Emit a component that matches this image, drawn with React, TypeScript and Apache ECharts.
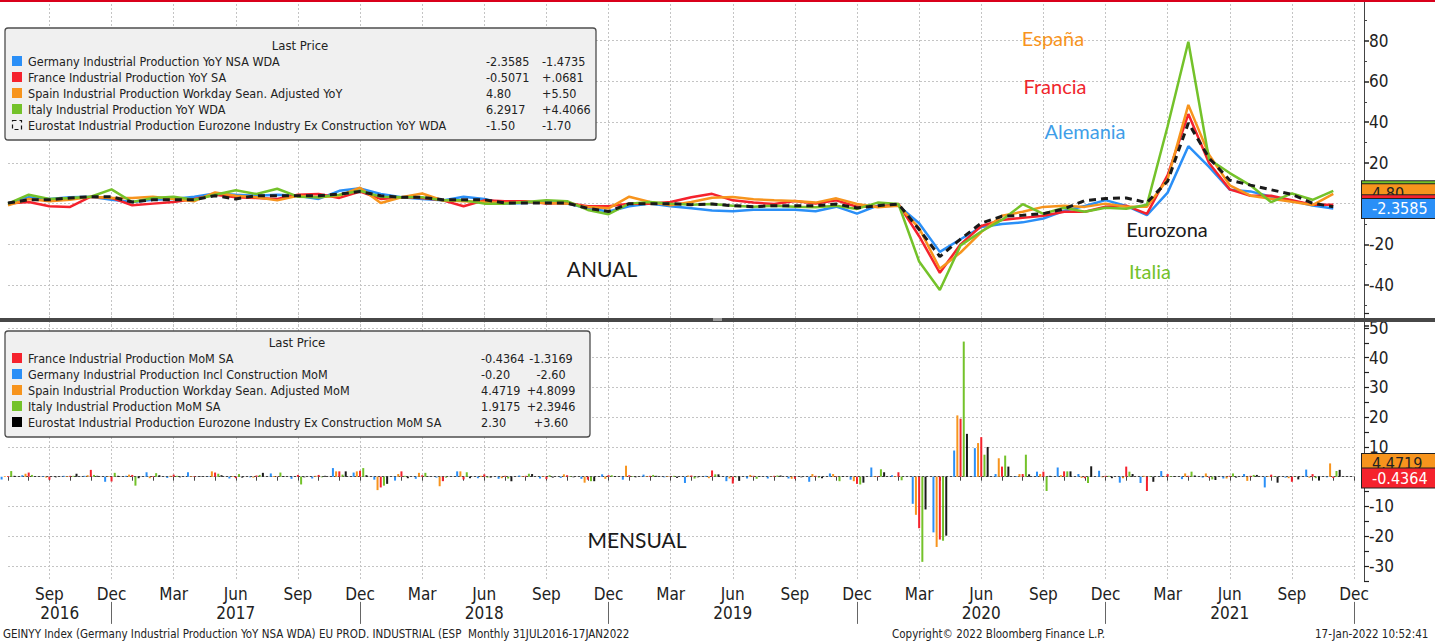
import React, { useEffect, useRef } from 'react';
import * as echarts from 'echarts';

// ---------- categories ----------
const MONTH_ABBR = ['Jan', 'Feb', 'Mar', 'Apr', 'May', 'Jun', 'Jul', 'Aug', 'Sep', 'Oct', 'Nov', 'Dec'];
const categories: string[] = Array.from({ length: 66 }, (_, i) => {
  const m = (6 + i) % 12;
  const y = 2016 + Math.floor((6 + i) / 12);
  return `${MONTH_ABBR[m]} ${y}`;
});
const yearLabels = ['2016', '2017', '2018', '2019', '2020', '2021'];
const yearLabelSlots = [5, 22, 46, 70, 94, 118];
const halfSlots: string[] = Array.from({ length: 131 }, (_, k) => String(k));

// ---------- YoY (Jul 2016 .. Nov 2021) ----------
const germanyYoY = [
  0, 3.1, 2.3, 3.1, 3.4, 1.9,
  0.8, 1.9, 2.3, 3.4, 5.0, 4.4, 3.9, 4.4, 3.9, 2.3, 6.3, 7.5,
  4.7, 3.1, 2.3, 1.6, 3.4, 2.3, 0, 0.3, 0.8, 0, -2.3, -3.9,
  -1.3, 0, -1.3, -2.3, -3.4, -3.7, -3.0, -3.0, -3.0, -3.7, -1.5, -4.9,
  -1.0, -1.0, -9.6, -23.7, -17.5, -11.5, -10.0, -9.2, -7.3, -3.5, -1.2, 1.7,
  -1.1, -5.7, 5.4, 28.2, 18.0, 6.8, 6.0, 3.4, 1.4, -0.885, -2.3585,
];
const franceYoY = [
  0, 0.8, -1.3, -1.6, 3.4, 2.8,
  -0.8, 0, 0.8, 2.3, 4.4, 3.1, 2.8, 2.3, 4.4, 4.7, 2.8, 5.9,
  2.3, 3.1, 2.8, 1.6, -1.3, 1.6, 1.2, 1.2, 0, 0.3, -1.3, -1.3,
  0, 0, 0.8, 3.1, 4.8, 1.6, 0.5, -0.2, 1.3, 0, 1.6, -1.5,
  -1.5, -0.2, -16.0, -34.0, -20.0, -11.0, -8.0, -7.0, -6.0, -4.0, -4.0, -1.5,
  -1.0, -5.0, 14.0, 44.0, 20.0, 7.0, 3.9, 3.9, 1.7, -0.5752, -0.5071,
];
const spainYoY = [
  -0.8, 2.3, 1.2, 1.9, 3.4, 2.8,
  2.8, 3.4, 2.3, 1.2, 5.5, 3.9, 3.1, 1.6, 3.9, 3.1, 3.9, 7.8,
  0.3, 3.1, 5.0, 1.6, 1.2, 0.8, 0.3, 0.8, 0.3, 0, -1.6, -2.3,
  3.4, 0.8, -0.8, 0.8, 2.9, 3.2, 2.1, 1.6, 1.3, 0.5, 2.6, -0.2,
  -1.8, -1.0, -12.0, -32.0, -24.0, -14.0, -6.0, -4.0, -1.6, -1.0, -1.6, 0,
  -1.5, -1.5, 12.0, 48.5, 24.0, 9.0, 3.9, 2.4, 0.9, -0.7, 4.8,
];
const italyYoY = [
  0, 4.4, 2.3, 2.8, 3.4, 7.0,
  0.8, 2.8, 3.4, 1.9, 4.4, 6.6, 4.7, 7.3, 3.4, 3.1, 4.4, 6.3,
  3.4, 3.1, 3.1, 1.6, 1.6, 0, 0, 0.8, 1.6, 1.2, -3.1, -5.2,
  0, 0.8, 0, -0.5, -0.2, -1.0, -1.5, -1.0, -1.5, -1.8, -1.0, -2.6,
  0.5, -0.2, -28.4, -42.4, -20.5, -13.7, -8.0, -0.3, -5.0, -2.0, -4.0, -2.0,
  -2.5, -0.6, 38.0, 79.5, 21.8, 15.0, 9.0, 0.7, 5.0, 1.8851, 6.2917,
];
const eurozoneYoY = [
  0.3, 1.9, 1.9, 2.8, 3.4, 3.4,
  0.8, 1.9, 1.9, 1.9, 3.9, 2.3, 3.9, 3.9, 3.9, 3.9, 4.7, 5.9,
  3.9, 3.1, 3.1, 1.9, 1.9, 1.9, 0.3, 0.3, 0.3, 0.3, -2.3, -3.9,
  0, 0, 0, -0.5, -0.2, -1.0, -1.5, -1.0, -1.0, -1.0, -0.2, -2.1,
  -1.0, -0.2, -12.7, -26.0, -17.4, -9.6, -6.2, -5.7, -4.9, -2.6, 1.5, 2.5,
  2.8, 0.5, 11.0, 39.6, 22.4, 11.5, 9.1, 6.8, 4.5, 0.2, -1.5,
];

// ---------- MoM (Jul 2016 .. Nov 2021) ----------
const germanyMoM = [
  -0.9, 0.5, 0.2, 0.3, 0.3, -1.7,
  0.3, 1.5, -0.4, 1.5, 0.1, -0.6, -0.2, 1.1, -0.7, -0.6, 2.9, 1.4,
  -1.0, -1.3, -0.7, -0.3, 1.8, -0.5, -0.7, 0.4, -0.6, -0.4, -0.7, 0.8,
  -1.0, 0.7, -0.2, -2.1, 0.3, -1.5, -0.6, -0.6, -0.6, -1.7, 1.1, -1.0,
  3.1, 0.5, -9.1, -18.7, 8.8, 9.6, 0.9, 0.2, 1.7, 3.1, 0.9, 2.0,
  -2.0, -2.1, 1.9, -0.8, -0.3, -0.6, 0.9, -3.6, -0.3, 2.4, -0.2,
];
const spainMoM = [
  0.2, 1.0, -0.3, 0.2, 0.5, 0.2,
  0.7, -0.5, 0.3, 0.2, 1.8, 0.2, -0.3, 0.2, 0, 0.3, 1.8, 1.8,
  -4.5, 0.9, 1.3, -3.2, 1.8, 0.3, -0.5, 0.2, 0.2, 0.8, -2.0, -0.7,
  3.7, 0.2, 0.2, 0.4, -0.5, -0.6, 0.6, 0.1, -0.7, 0.9, 0.9, -1.5,
  0.2, 0.2, -12.8, -23.6, 20.6, 11.3, 6.2, 0.9, 0.9, 0.5, -0.4, -0.2,
  -0.5, 0.3, 0.2, 1.1, 1.1, -0.6, -1.4, 0.2, -0.5, -0.338, 4.4719,
];
const franceMoM = [
  0.2, 1.4, -1.0, 0.3, 2.3, -1.6,
  0.6, 0.2, 0.7, 0.2, 1.4, -0.5, 0.4, 0.1, 0.6, 0.6, 1.8, 2.0,
  -3.6, 1.8, 0.5, -1.5, -0.9, 0.8, 0.3, 0.3, -0.8, 0.5, -1.0, 0.5,
  0.5, 0.3, 0.1, 0.4, 2.1, -2.3, 0.3, 0.3, -0.7, 0.3, 0.2, -2.4,
  0.2, 1.5, -17.3, -21.1, 19.5, 13.3, 3.4, 0.9, 1.7, 1.8, -0.5, 0.3,
  3.4, -4.8, 0.9, 0.3, -0.3, 0.3, 0.3, 0.7, -1.7, 0.8805, -0.4364,
];
const italyMoM = [
  1.9, 0.6, 0, 0.3, 0.6, 1.3,
  -3.0, 1.2, 0.3, 0, 1.0, 0.9, 0.6, 1.4, -2.6, -0.2, 0.7, 2.9,
  -3.0, 0.3, 1.3, -0.3, 1.5, -0.3, -0.6, 1.0, 0.5, 0.2, -1.5, 0.5,
  0.2, 0.6, 0.3, -0.6, 0.8, -0.2, -0.7, 0.4, 0, -0.3, -1.5, -2.6,
  2.5, -1.2, -28.6, -21.5, 45.4, 7.4, 7.1, 7.4, -4.8, 1.8, -2.1, 0.3,
  1.7, 0.2, 0.2, 1.7, -0.9, 1.1, 0.6, 0.2, 0.1, -0.4771, 1.9175,
];
const eurozoneMoM = [
  0.3, 0.1, -0.2, 1.0, 0.3, 0.3,
  -0.5, 0.5, -0.2, 0.1, 0.5, -0.3, 1.3, 0.2, -0.2, 0.3, 1.8, 0.5,
  -2.4, -0.5, 0.1, 0, -0.5, -0.3, -1.5, 0.9, -0.3, -0.2, -1.5, 0.2,
  -0.2, 0.3, -0.4, -0.2, 0.8, -1.4, -0.1, 0.4, -0.2, -0.5, 0.2, -2.0,
  1.5, 0, -11.0, -19.8, 14.4, 10.0, 3.4, 0.8, 0.3, 1.8, 3.5, -0.5,
  0.9, -1.7, 0.2, 0.4, -1.1, -0.3, 0.6, -2.0, -0.9, -1.3, 2.3,
];

// ---------- legend texts ----------
const yoyNames = [
  'Germany Industrial Production YoY NSA WDA',
  'France Industrial Production YoY SA',
  'Spain Industrial Production Workday Sean. Adjusted YoY',
  'Italy Industrial Production YoY WDA',
  'Eurostat Industrial Production Eurozone Industry Ex Construction YoY WDA',
];
const yoyLast = ['-2.3585', '-0.5071', '4.80', '6.2917', '-1.50'];
const yoyChange = ['-1.4735', '+.0681', '+5.50', '+4.4066', '-1.70'];
const momNames = [
  'France Industrial Production MoM SA',
  'Germany Industrial Production Incl Construction MoM',
  'Spain Industrial Production Workday Sean. Adjusted MoM',
  'Italy Industrial Production MoM SA',
  'Eurostat Industrial Production Eurozone Industry Ex Construction MoM SA',
];
const momLast = ['-0.4364', '-0.20', '4.4719', '1.9175', '2.30'];
const momChange = ['-1.3169', '-2.60', '+4.8099', '+2.3946', '+3.60'];
const mensualGrid = [-30, -20, -10, 0, 10, 20, 30, 40, 50];

// ---------- styles ----------
const BLUE = '#2a8ff7';
const RED = '#f5222d';
const ORANGE = '#f7941d';
const GREEN = '#74c22a';
const BLACK = '#1a1a1a';
const FONT_C = '"DejaVu Sans Condensed", "DejaVu Sans", sans-serif';
const FONT_ANN = 'Lato, "Open Sans", sans-serif';

const tag = (text: string, value: number, bg: string, fg: string) => ({
  silent: true,
  symbol: ['none', 'none'],
  lineStyle: { color: 'rgba(0,0,0,0)', width: 0, opacity: 1 },
  data: [{ yAxis: value }],
  label: {
    show: true,
    position: 'end',
    distance: 8,
    formatter: text,
    backgroundColor: bg,
    color: fg,
    opacity: 1,
    fontFamily: FONT_C,
    fontSize: 16,
    lineHeight: 17,
    width: 72,
    overflow: 'none',
    padding: [1, 4, 1, 10],
    borderColor: '#222',
    borderWidth: 1,
  },
});

const txt = (x: number, y: number, text: string, font: string, fill: string, align = 'left', z = 101) => ({
  type: 'text',
  x,
  y,
  z,
  style: { text, font, fill, textAlign: align, align, textVerticalAlign: 'middle', verticalAlign: 'middle' },
});

function legendBox(
  bx: number, by: number, bw: number, bh: number, titleX: number, titleY: number, rowY: number,
  names: string[], colors: string[], lasts: string[], changes: string[], c1: number, c2: number, c2Align: string,
  dashedLast: boolean,
) {
  const els: any[] = [];
  els.push({ type: 'rect', z: 100, shape: { x: bx, y: by, width: bw, height: bh, r: 3 }, style: { fill: '#f0f0f0', stroke: '#4d4d4d', lineWidth: 1.3 } });
  els.push(txt(titleX, titleY, 'Last Price', `13px ${FONT_C}`, '#222', 'center'));
  names.forEach((n, i) => {
    const y = rowY + i * 16;
    if (dashedLast && i === names.length - 1) {
      els.push({ type: 'rect', z: 101, shape: { x: 12.5, y: y - 4.5, width: 9, height: 9 }, style: { fill: 'none', stroke: '#111', lineWidth: 1.2, lineDash: [4, 3] } });
    } else {
      els.push({ type: 'rect', z: 101, shape: { x: 12, y: y - 5, width: 10, height: 10 }, style: { fill: colors[i] } });
    }
    els.push(txt(28, y, n, `12.5px ${FONT_C}`, '#222'));
    els.push(txt(c1, y, lasts[i], `12.5px ${FONT_C}`, '#222'));
    els.push(txt(c2, y, changes[i], `12.5px ${FONT_C}`, '#222', c2Align));
  });
  return els;
}

const graphicElements: any[] = [
  { type: 'rect', z: 100, shape: { x: 0, y: 0, width: 1435, height: 2 }, style: { fill: '#d9001b' } },
  { type: 'rect', z: 100, shape: { x: 0, y: 318, width: 1435, height: 4 }, style: { fill: '#474747' } },
  { type: 'rect', z: 101, shape: { x: 713, y: 318, width: 9, height: 3 }, style: { fill: '#9a9a9a' } },
  ...legendBox(5, 28, 591, 112, 300, 45, 61, yoyNames, [BLUE, RED, ORANGE, GREEN, BLACK], yoyLast, yoyChange, 486, 542, 'left', true),
  ...legendBox(5, 331, 585, 106, 297, 342, 358, momNames, [RED, BLUE, ORANGE, GREEN, '#000'], momLast, momChange, 481, 551, 'center', false),
  txt(1053, 38, 'España', `20px ${FONT_ANN}`, ORANGE, 'center', 50),
  txt(1055, 86, 'Francia', `20px ${FONT_ANN}`, '#f0262d', 'center', 50),
  txt(1085, 131, 'Alemania', `20px ${FONT_ANN}`, '#3f9ee8', 'center', 50),
  txt(1167, 229, 'Eurozona', `20px ${FONT_ANN}`, BLACK, 'center', 50),
  txt(1150, 271, 'Italia', `20px ${FONT_ANN}`, GREEN, 'center', 50),
  txt(602, 268, 'ANUAL', `21px ${FONT_ANN}`, BLACK, 'center', 50),
  txt(637, 539, 'MENSUAL', `21px ${FONT_ANN}`, BLACK, 'center', 50),
  txt(3, 634, 'GEINYY Index (Germany Industrial Production YoY NSA WDA) EU PROD. INDUSTRIAL (ESP  Monthly 31JUL2016-17JAN2022', `11.5px ${FONT_C}`, '#222'),
  txt(892, 634, 'Copyright\u00a9 2022 Bloomberg Finance L.P.', `11.5px ${FONT_C}`, '#222'),
  txt(1315, 634, '17-Jan-2022 10:52:41', `11.5px ${FONT_C}`, '#222'),
];

const isQuarterLabel = (i: number) => i % 3 === 2;
const splitStyle = { color: '#c4c4c4', type: [2, 2] as any, width: 1 };

const option: any = {
  animation: false,
  backgroundColor: '#ffffff',
  grid: [
    { left: 8, right: 81, top: -14.2, height: 340 },
    { left: 8, right: 81, top: 313.0, height: 267.9 },
  ],
  xAxis: [
    {
      gridIndex: 0, type: 'category', boundaryGap: false, data: categories,
      axisLine: { show: false }, axisTick: { show: false }, axisLabel: { show: false },
      splitLine: { show: true, interval: (i: number) => isQuarterLabel(i), lineStyle: splitStyle },
    },
    {
      gridIndex: 1, type: 'category', boundaryGap: false, data: categories,
      axisLine: { show: true, lineStyle: { color: '#444', width: 1 } },
      axisTick: { show: true, interval: 0, length: 4, lineStyle: { color: '#444' } },
      axisLabel: {
        show: true, interval: (i: number) => isQuarterLabel(i),
        formatter: (v: string) => v.split(' ')[0],
        fontFamily: FONT_C, fontSize: 17, color: '#222', margin: 5,
      },
      splitLine: { show: true, interval: (i: number) => isQuarterLabel(i), lineStyle: splitStyle },
    },
    {
      gridIndex: 1, type: 'category', boundaryGap: false, data: halfSlots, position: 'bottom', offset: 21,
      axisLine: { show: false },
      axisTick: {
        show: true, length: 22, lineStyle: { color: '#666' },
        interval: (k: number) => k % 2 === 0 && categories[k / 2].startsWith('Dec'),
      },
      axisLabel: {
        show: true,
        interval: (k: number) => yearLabelSlots.includes(k),
        formatter: (_v: string, k: number) => {
          const idx = yearLabelSlots.indexOf(k);
          return idx >= 0 ? yearLabels[idx] : '';
        },
        fontFamily: FONT_C, fontSize: 17, color: '#222', margin: 3,
      },
      splitLine: { show: false },
    },
  ],
  yAxis: [
    {
      gridIndex: 0, type: 'value', position: 'right', offset: 10, min: -60, max: 100, interval: 20,
      axisLine: { show: true, lineStyle: { color: '#444' } },
      axisTick: { show: true, length: 5, lineStyle: { color: '#222', width: 1.5 } },
      minorTick: { show: true, splitNumber: 2, length: 3, lineStyle: { color: '#444' } },
      axisLabel: {
        formatter: (v: number) => (v === -60 || v === 100 || v === 0 ? '' : String(v)),
        fontFamily: FONT_C, fontSize: 17, color: '#222', margin: 5,
      },
      splitLine: { show: true, showMinLine: false, showMaxLine: false, lineStyle: splitStyle },
    },
    {
      gridIndex: 1, type: 'value', position: 'right', offset: 10, min: -35, max: 55, interval: 5,
      axisLine: { show: true, lineStyle: { color: '#444' } },
      axisTick: { show: true, length: 5, lineStyle: { color: '#222', width: 1.2 } },
      axisLabel: {
        formatter: (v: number) => (v % 10 === 0 && v !== 0 ? String(v) : ''),
        fontFamily: FONT_C, fontSize: 17, color: '#222', margin: 5,
      },
      splitLine: { show: false },
    },
  ],
  series: [
    { type: 'line', name: 'Germany YoY', xAxisIndex: 0, yAxisIndex: 0, data: germanyYoY, symbol: 'none', showSymbol: false,
      lineStyle: { color: BLUE, width: 2.5 }, itemStyle: { color: BLUE }, z: 2 },
    { type: 'line', name: 'France YoY', xAxisIndex: 0, yAxisIndex: 0, data: franceYoY, symbol: 'none', showSymbol: false,
      lineStyle: { color: RED, width: 2.5 }, itemStyle: { color: RED }, z: 2 },
    { type: 'line', name: 'Spain YoY', xAxisIndex: 0, yAxisIndex: 0, data: spainYoY, symbol: 'none', showSymbol: false,
      lineStyle: { color: ORANGE, width: 2.5 }, itemStyle: { color: ORANGE }, z: 2 },
    { type: 'line', name: 'Italy YoY', xAxisIndex: 0, yAxisIndex: 0, data: italyYoY, symbol: 'none', showSymbol: false,
      lineStyle: { color: GREEN, width: 2.5 }, itemStyle: { color: GREEN }, z: 2 },
    { type: 'line', name: 'Eurozone YoY', xAxisIndex: 0, yAxisIndex: 0, data: eurozoneYoY, symbol: 'none', showSymbol: false,
      lineStyle: { color: BLACK, width: 3, type: [7, 5] }, itemStyle: { color: BLACK }, z: 3 },
    // price tags on the right axis, stacked: green, orange, red, blue on top
    { type: 'line', name: 'tagG', xAxisIndex: 0, yAxisIndex: 0, data: [], clip: false, markLine: tag(yoyLast[3], italyYoY[64], GREEN, '#222'), z: 4 },
    { type: 'line', name: 'tagO', xAxisIndex: 0, yAxisIndex: 0, data: [], clip: false, markLine: tag(yoyLast[2], spainYoY[64], ORANGE, '#222'), z: 5 },
    { type: 'line', name: 'tagR', xAxisIndex: 0, yAxisIndex: 0, data: [], clip: false, markLine: tag(yoyLast[1], franceYoY[64], RED, '#fff'), z: 6 },
    { type: 'line', name: 'tagB', xAxisIndex: 0, yAxisIndex: 0, data: [], clip: false, markLine: tag(yoyLast[0], germanyYoY[64], BLUE, '#fff'), z: 7 },

    { type: 'bar', name: 'Germany MoM', xAxisIndex: 1, yAxisIndex: 1, data: germanyMoM, barWidth: 2, barGap: '60%', clip: false,
      itemStyle: { color: BLUE },
      markLine: { silent: true, z: 1, symbol: ['none', 'none'], label: { show: false }, lineStyle: splitStyle,
        data: mensualGrid.map((v) => ({ yAxis: v })) } },
    { type: 'bar', name: 'Spain MoM', xAxisIndex: 1, yAxisIndex: 1, data: spainMoM, barWidth: 2, barGap: '60%', clip: false,
      itemStyle: { color: ORANGE } },
    { type: 'bar', name: 'France MoM', xAxisIndex: 1, yAxisIndex: 1, data: franceMoM, barWidth: 2, barGap: '60%', clip: false,
      itemStyle: { color: RED } },
    { type: 'bar', name: 'Italy MoM', xAxisIndex: 1, yAxisIndex: 1, data: italyMoM, barWidth: 2, barGap: '60%', clip: false,
      itemStyle: { color: GREEN } },
    { type: 'bar', name: 'Eurozone MoM', xAxisIndex: 1, yAxisIndex: 1, data: eurozoneMoM, barWidth: 2, barGap: '60%', clip: false,
      itemStyle: { color: BLACK } },
    { type: 'line', name: 'tagO2', xAxisIndex: 1, yAxisIndex: 1, data: [], clip: false, markLine: tag(momLast[2], spainMoM[64], ORANGE, '#222'), z: 5 },
    { type: 'line', name: 'tagR2', xAxisIndex: 1, yAxisIndex: 1, data: [], clip: false, markLine: tag(momLast[0], franceMoM[64], RED, '#fff'), z: 6 },
  ],
  graphic: { elements: graphicElements },
};

export default function App() {
  const ref = useRef<HTMLDivElement>(null);
  useEffect(() => {
    if (!ref.current) return;
    const chart = echarts.init(ref.current, null, { renderer: 'svg' });
    chart.setOption(option);
    return () => chart.dispose();
  }, []);
  return (
    <div
      ref={ref}
      style={{ position: 'fixed', left: 0, top: 0, width: 1435, height: 644, background: '#fff' }}
    />
  );
}
